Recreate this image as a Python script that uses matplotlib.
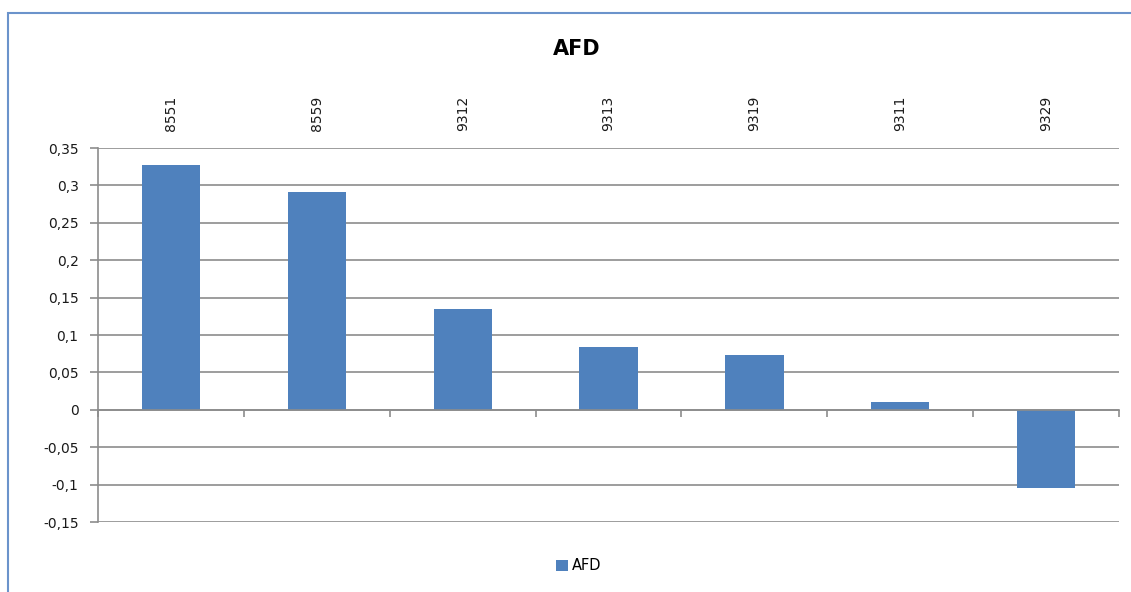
#Bar chart of AFD per station, Excel-like look
import matplotlib.pyplot as plt
import numpy as np
from matplotlib.patches import Rectangle
from matplotlib.ticker import FuncFormatter, MultipleLocator

stations = ['8551', '8559', '9312', '9313', '9319', '9311', '9329']
afd = [0.327, 0.291, 0.135, 0.084, 0.073, 0.010, -0.104]
y_ticks = [-0.15, -0.1, -0.05, 0, 0.05, 0.1, 0.15, 0.2, 0.25, 0.3, 0.35]

BAR_COLOR = '#4F81BD'
GRID_COLOR = '#8C8C8C'

plt.rcParams['font.family'] = ['DejaVu Sans']

fig = plt.figure(figsize=(11.31, 5.92), dpi=100)
ax = fig.add_axes([0.0867, 0.1182, 0.9027, 0.6318])

x = np.arange(len(stations))
ax.bar(x, afd, width=0.4, color=BAR_COLOR, label='AFD', zorder=3)

#y axis with comma decimals
ax.set_ylim(-0.15, 0.35)
ax.set_yticks(y_ticks)
ax.yaxis.set_major_formatter(FuncFormatter(lambda v, p: ('%g' % round(v, 2)).replace('.', ',')))
ax.yaxis.grid(True, color=GRID_COLOR, linewidth=1.2, zorder=0)
ax.tick_params(axis='y', direction='out', length=6, width=1.2, color=GRID_COLOR,
               labelsize=10, pad=8, labelcolor='#1a1a1a')

#categories on top, axis line at zero with ticks between groups
ax.set_xlim(-0.5, len(stations) - 0.5)
ax.set_xticks(x)
ax.set_xticklabels(stations)
ax.xaxis.set_minor_locator(MultipleLocator(1, offset=0.5))
ax.tick_params(axis='x', which='major', bottom=False, top=False, labelbottom=False,
               labeltop=True, labelsize=10, pad=9, labelcolor='#1a1a1a', labelrotation=90)
ax.tick_params(axis='x', which='minor', bottom=True, top=False, direction='out',
               length=5, width=1.2, color=GRID_COLOR)

ax.spines['top'].set_visible(False)
ax.spines['right'].set_visible(False)
ax.spines['left'].set_color(GRID_COLOR)
ax.spines['left'].set_linewidth(1.2)
ax.spines['bottom'].set_position(('data', 0))
ax.spines['bottom'].set_color(GRID_COLOR)
ax.spines['bottom'].set_linewidth(1.2)
ax.spines['bottom'].set_zorder(4)

fig.text(0.51, 0.918, 'AFD', ha='center', va='center', fontsize=15, fontweight='bold')

fig.legend(loc='center', bbox_to_anchor=(0.512, 0.044), frameon=False, fontsize=10.5,
           handlelength=0.8, handleheight=0.8, handletextpad=0.3)

#outer chart border (cut off at right and bottom)
fig.patches.append(Rectangle((8 / 1131, -0.1), 1.2, 1.1 - 13 / 592, transform=fig.transFigure,
                             fill=False, edgecolor='#6B93CB', linewidth=1.5, clip_on=False))

fig.savefig('out.png', dpi=100)
